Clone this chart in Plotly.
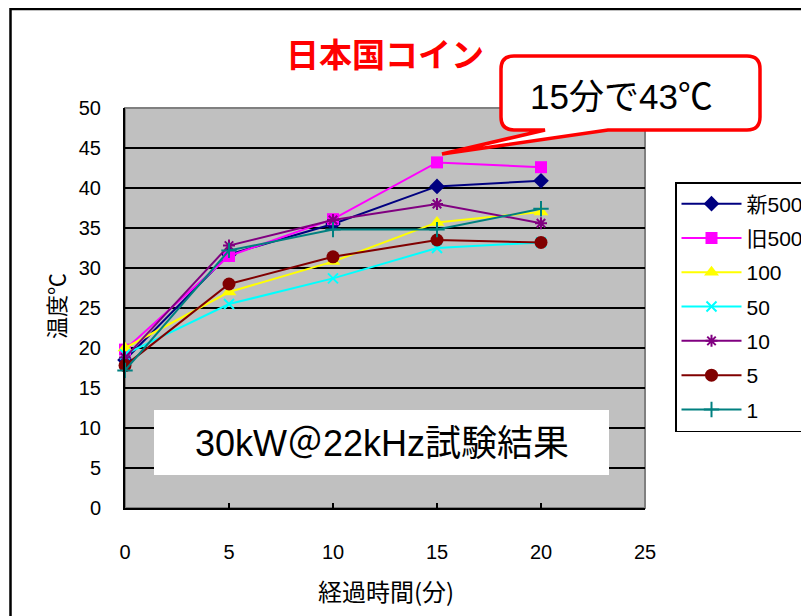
import plotly.graph_objects as go

# ---- data ----
minutes = [0, 5, 10, 15, 20]
series_names = ["新500", "旧500", "100", "50", "10", "5", "1"]
shin500 = [18.5, 31.7, 35.5, 40.2, 40.9]
kyu500 = [19.8, 31.5, 36.1, 43.2, 42.6]
yen100 = [20.0, 27.0, 30.8, 35.7, 37.0]
yen50 = [19.2, 25.5, 28.7, 32.5, 33.2]
yen10 = [18.8, 32.8, 36.0, 38.0, 35.6]
yen5 = [17.8, 28.0, 31.4, 33.5, 33.2]
yen1 = [17.2, 32.2, 34.8, 34.8, 37.4]
x_ticks = [0, 5, 10, 15, 20, 25]
y_ticks = [0, 5, 10, 15, 20, 25, 30, 35, 40, 45, 50]

title_text = "日本国コイン"
callout_text = "15分で43℃"
box_text = "30kW＠22kHz試験結果"
x_title = "経過時間(分)"
y_title = "温度℃"

values = [shin500, kyu500, yen100, yen50, yen10, yen5, yen1]
colors = ["#000080", "#FF00FF", "#FFFF00", "#00FFFF", "#800080", "#800000", "#008080"]
symbols = ["diamond", "square", "triangle-up", "x-thin-open", "asterisk-open", "circle", "cross-thin-open"]
msizes = [12, 12, 13, 10, 10, 13, 11]

W, H = 809, 616
OFF = 8  # page body margin
PL, PT, PW, PH = 125, 108, 520, 400  # plot area in page pixels
L, T = PL - OFF, PT - OFF
R, B = W - L - PW, H - T - PH


def px(xp):
    return (xp - PL) / PW


def py(yp):
    return (PT + PH - yp) / PH


fig = go.Figure()
for i, (name, vals) in enumerate(zip(series_names, values)):
    mk = dict(symbol=symbols[i], size=msizes[i], color=colors[i])
    if symbols[i].endswith("open"):
        mk["line"] = dict(color=colors[i], width=2)
    fig.add_trace(go.Scatter(
        x=minutes, y=vals, name=name, mode="lines+markers",
        line=dict(color=colors[i], width=2), marker=mk,
        legendgroup=name, cliponaxis=False,
    ))

jp = "Noto Sans CJK JP"
num = "Liberation Sans, Noto Sans CJK JP"

# callout path (rounded rect with pointer)
x0, x1, y0, y1, r = 501, 760, 56, 130, 13
pts = [("M", [(x0 + r, y0)]), ("L", [(x1 - r, y0)]), ("Q", [(x1, y0), (x1, y0 + r)]),
       ("L", [(x1, y1 - r)]), ("Q", [(x1, y1), (x1 - r, y1)]), ("L", [(608, y1)]),
       ("L", [(442, 154)]), ("L", [(545, y1)]), ("L", [(x0 + r, y1)]),
       ("Q", [(x0, y1), (x0, y1 - r)]), ("L", [(x0, y0 + r)]), ("Q", [(x0, y0), (x0 + r, y0)])]
path = " ".join(c + " " + " ".join(f"{px(a):.5f},{py(b):.5f}" for a, b in p) for c, p in pts) + " Z"

shapes = [
    # outer frame
    dict(type="rect", xref="paper", yref="paper", x0=px(10.5), x1=px(840), y0=py(9), y1=py(650),
         line=dict(color="black", width=2.5), fillcolor="rgba(0,0,0,0)", layer="below"),
    # plot area border (top/right gray)
    dict(type="rect", xref="paper", yref="paper", x0=0, x1=1, y0=0, y1=1,
         line=dict(color="#808080", width=2), layer="below"),
    # white text box
    dict(type="rect", xref="paper", yref="paper", x0=px(154), x1=px(609), y0=py(475), y1=py(410),
         line=dict(width=0), fillcolor="white", layer="above"),
    # callout
    dict(type="path", xref="paper", yref="paper", path=path,
         line=dict(color="#FF0000", width=3.5), fillcolor="white", layer="above"),
]

annotations = [
    dict(text=title_text, xref="paper", yref="paper", x=px(385), y=py(53), showarrow=False,
         font=dict(family=jp, size=33, color="#FF0000", weight="bold"), xanchor="center", yanchor="middle"),
    dict(text=callout_text, xref="paper", yref="paper", x=px(621), y=py(97), showarrow=False,
         font=dict(family=num, size=35, color="black"), xanchor="center", yanchor="middle"),
    dict(text=box_text, xref="paper", yref="paper", x=px(382), y=py(443), showarrow=False,
         font=dict(family=num, size=36, color="black"), xanchor="center", yanchor="middle"),
    dict(text=x_title, xref="paper", yref="paper", x=px(386), y=py(590), showarrow=False,
         font=dict(family=jp, size=24, color="black"), xanchor="center", yanchor="middle"),
    dict(text=y_title, xref="paper", yref="paper", x=px(55), y=py(306), showarrow=False, textangle=-90,
         font=dict(family=jp, size=22, color="black"), xanchor="center", yanchor="middle"),
]

fig.update_layout(
    width=W, height=H, margin=dict(l=L, r=R, t=T, b=B, autoexpand=False),
    paper_bgcolor="white", plot_bgcolor="#C0C0C0",
    shapes=shapes, annotations=annotations,
    showlegend=True,
    legend=dict(x=px(675), y=py(182), xanchor="left", yanchor="top",
                bgcolor="white", bordercolor="black", borderwidth=1.5,
                font=dict(family=num, size=21, color="black"),
                tracegroupgap=4, itemwidth=60),
    xaxis=dict(range=[0, 25], tickvals=x_ticks, showgrid=False, zeroline=False,
               showline=True, linecolor="black", linewidth=2,
               ticks="inside", ticklen=5, tickwidth=2, tickcolor="black",
               tickfont=dict(family=num, size=20, color="black"), ticklabelstandoff=25),
    yaxis=dict(range=[0, 50], tickvals=y_ticks, showgrid=True, gridcolor="black", gridwidth=2,
               zeroline=False, showline=True, linecolor="black", linewidth=2,
               ticks="", tickfont=dict(family=num, size=20, color="black"), ticklabelstandoff=18),
)

fig.write_html("out.html")
